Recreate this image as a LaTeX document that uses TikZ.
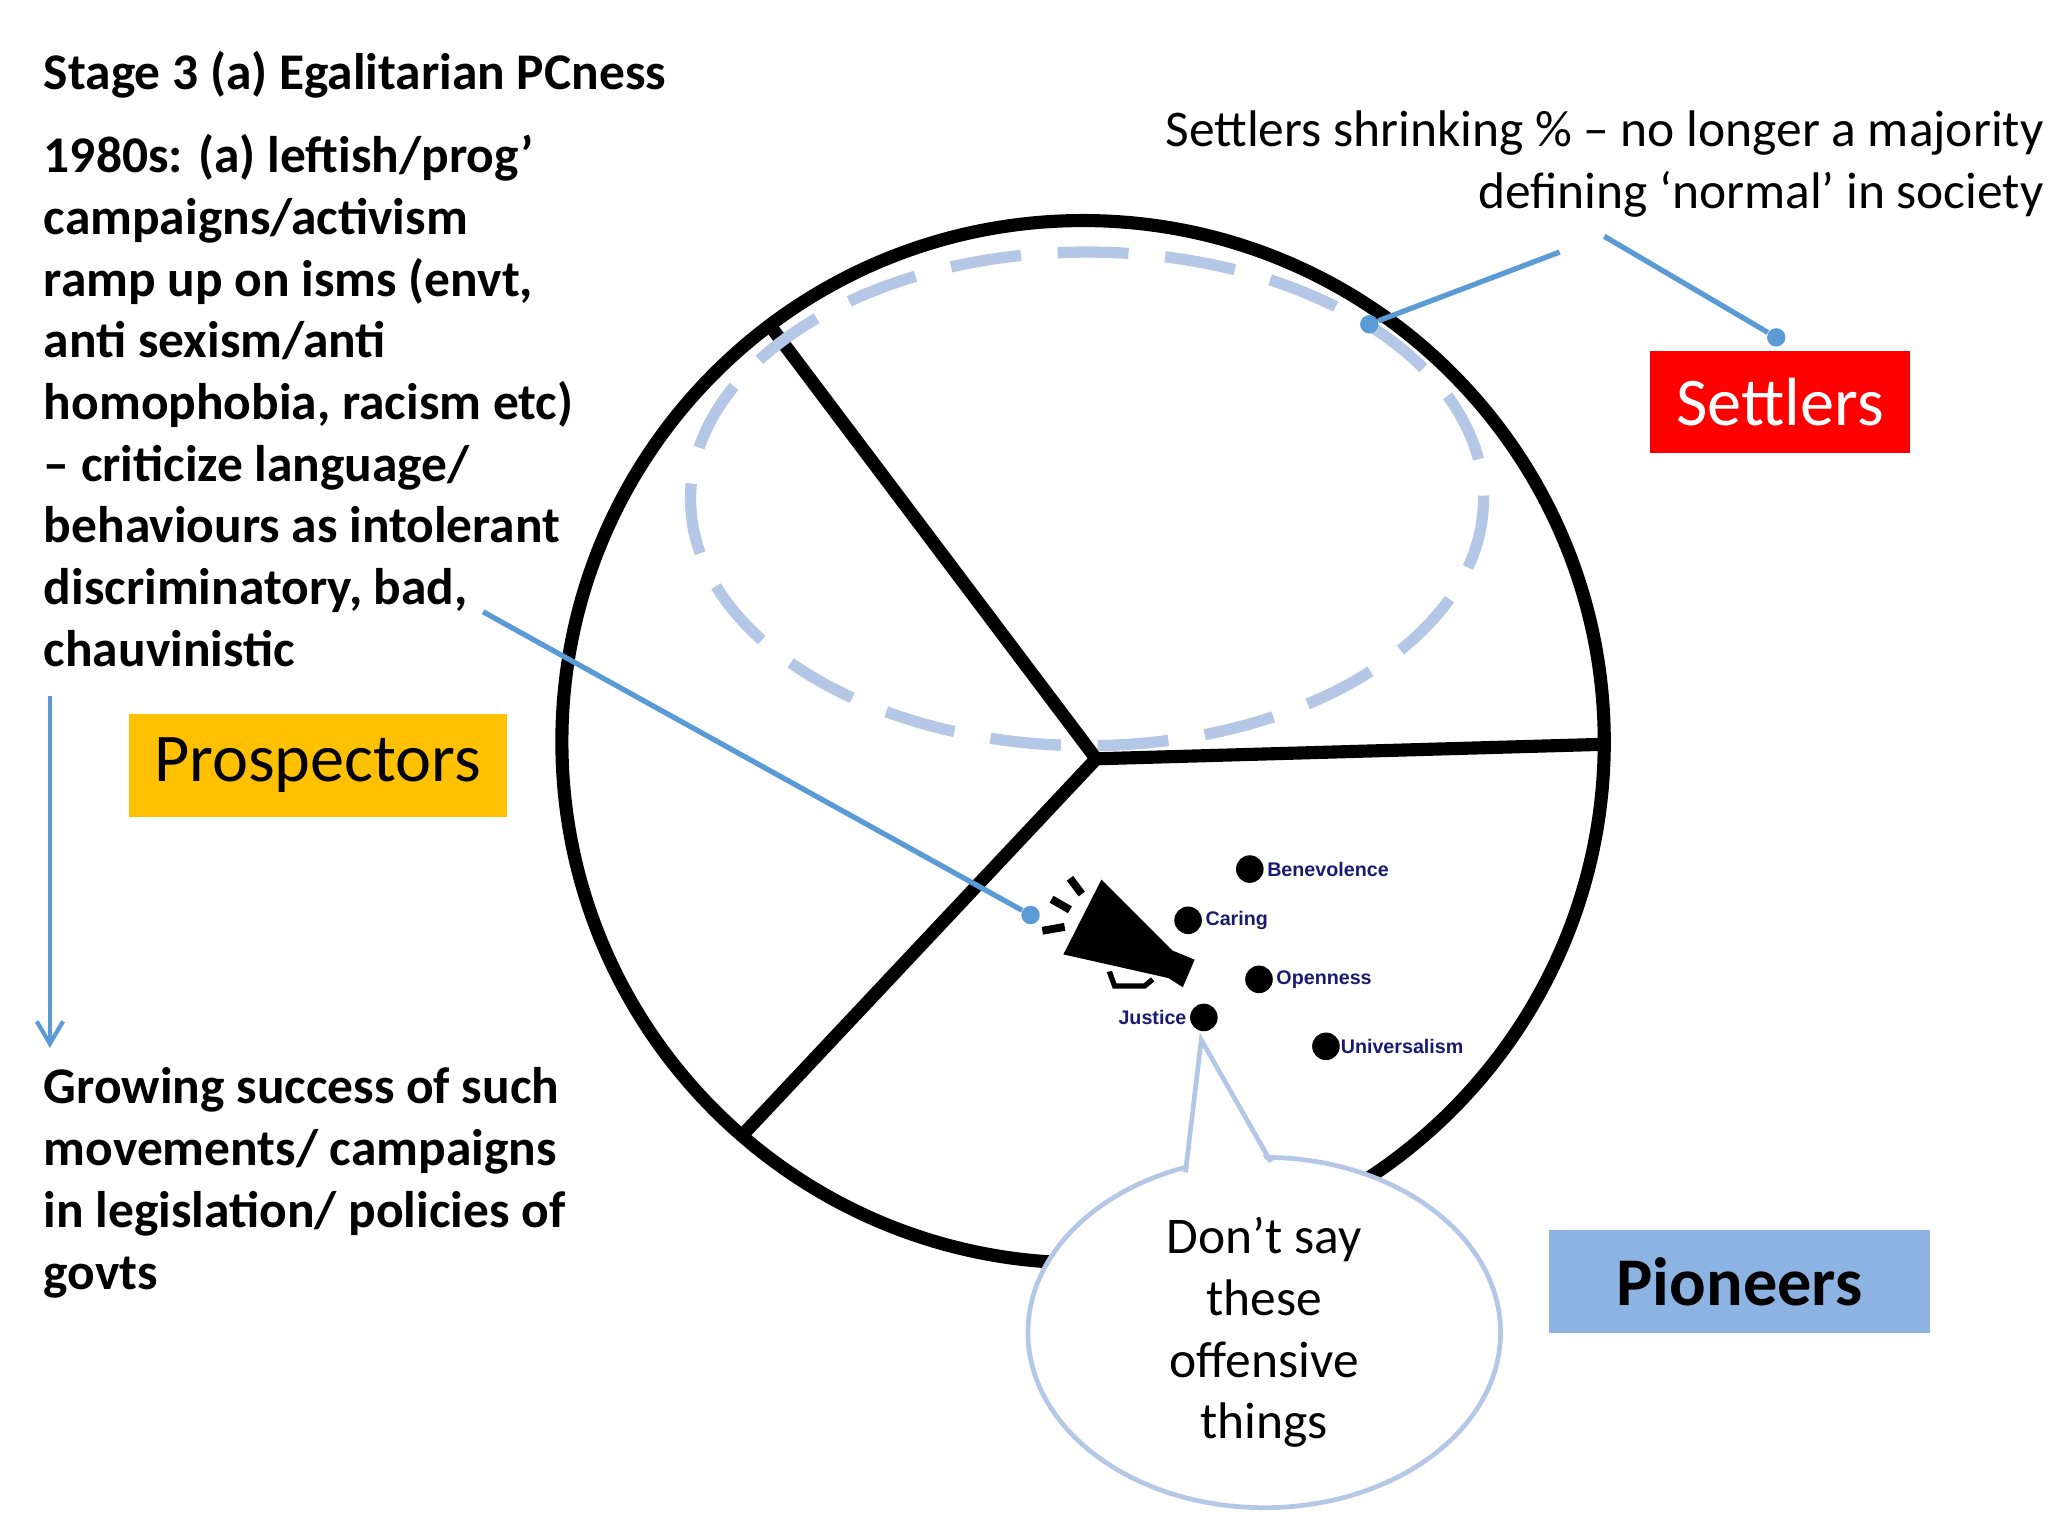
\documentclass[tikz,border=0pt]{standalone}
\usepackage{fontspec}
\setmainfont{Carlito}
\newfontfamily\arialf{Liberation Sans}
\usetikzlibrary{shapes.geometric}
\definecolor{lblue}{HTML}{B4C7E7}
\definecolor{conn}{HTML}{5B9BD5}
\definecolor{pion}{HTML}{8DB3E2}
\definecolor{pros}{HTML}{FFC000}
\definecolor{navy}{HTML}{1A1A70}
\begin{document}
\begin{tikzpicture}[x=0.5pt,y=-0.5pt,
  body/.style={font=\fontsize{19.6}{23.5}\selectfont\bfseries,align=left,anchor=north west,inner sep=0},
  conn/.style={draw=conn,line width=2pt},
  dotn/.style={circle,fill=black,minimum size=10.5pt,inner sep=0},
  lab/.style={font=\arialf\fontsize{7.5}{9}\selectfont\bfseries,text=navy,inner sep=1pt},
  box/.style={minimum width=#1,minimum height=39pt,inner sep=0},
  bigt/.style={font=\fontsize{26}{30}\selectfont}]
\useasboundingbox (0,0) rectangle (1560,1170);
% circle
\coordinate (c) at (835,578);
\draw[line width=5pt] (825,565) circle (397);
\draw[line width=5pt] (c) -- (588,250);
\draw[line width=5pt] (c) -- (1220,567);
\draw[line width=5pt] (c) -- (568,862);
% dashed ellipse
\draw[lblue,line width=4.3pt,dash pattern=on 27pt off 14pt] (828,380) ellipse [x radius=302,y radius=188];
% texts
\node[body] (t1) at (33,39) {Stage 3 (a) Egalitarian PCness};
\node[body] (t2) at (33,102) {1980s: (a) leftish/prog’\\campaigns/activism\\ramp up on isms (envt,\\anti sexism/anti\\homophobia, racism etc)\\– criticize language/\\behaviours as intolerant\\discriminatory, bad,\\chauvinistic};
\node[body] (t3) at (33,813) {Growing success of such\\movements/ campaigns\\in legislation/ policies of\\govts};
\node[font=\fontsize{19.6}{23.5}\selectfont,align=right,anchor=north east,inner sep=0] (t4) at (1557,84) {Settlers shrinking \% – no longer a majority\\defining ‘normal’ in society};
% boxes
\node[box=99pt,fill=red,text=white,bigt] (set) at (1356,306) {Settlers};
\node[box=144pt,fill=pros,bigt] (pro) at (242,583) {Prospectors};
\node[box=145pt,fill=pion,font=\fontsize{26}{30}\selectfont\bfseries] (pio) at (1325,976) {Pioneers};
% connectors
\coordinate (a1) at (1188,192);
\coordinate (a2) at (1222,180);
\coordinate (a3) at (368,466);
\node[circle,fill=conn,minimum size=7pt,inner sep=0] (d1) at (1043,247) {};
\node[circle,fill=conn,minimum size=7pt,inner sep=0] (d2) at (1353,257) {};
\node[circle,fill=conn,minimum size=7pt,inner sep=0] (d3) at (785,697) {};
\draw[conn] (a1) -- (d1);
\draw[conn] (a2) -- (d2);
\draw[conn] (a3) -- (d3);
\coordinate (v1) at (38,530);
\coordinate (v2) at (38,795);
\draw[conn,line width=1.6pt] (v1) -- (v2);
\draw[conn,line width=1.6pt] (28,778) -- (v2) -- (48,778);
% megaphone
\fill (839,670) -- (893,724) -- (910,731) -- (901,752) -- (890,745) -- (810,727) -- cycle;
\draw[line width=2pt] (845,740) -- (849,751) -- (872,751) -- (878,746);
\draw[line width=3pt] (794,709) -- (811,706);
\draw[line width=3pt] (801,685) -- (815,693);
\draw[line width=3pt] (815,669) -- (824,681);
% value dots
\node[dotn] (b) at (952,662) {};
\node[lab,anchor=west] at (b.east) {Benevolence};
\node[dotn] (ca) at (905,701) {};
\node[lab,anchor=west] at (ca.east) {Caring};
\node[dotn] (o) at (959,746) {};
\node[lab,anchor=west] at (o.east) {Openness};
\node[dotn] (j) at (917,775) {};
\node[lab,anchor=east] at (j.west) {Justice};
\node[dotn] (u) at (1010,797) {};
\node[lab,anchor=west,inner sep=0] at (u.east) {Universalism};
% bubble
\node[ellipse,draw=lblue,fill=white,line width=1.8pt,minimum width=180pt,minimum height=130pt,align=center,font=\fontsize{19.6}{23.5}\selectfont] (bub) at (963,1015) {Don’t say\\these\\offensive\\things};
\fill[white] (905,893) -- (915,790) -- (966,888) -- cycle;
\draw[lblue,line width=1.8pt] (903,893) -- (915,792) -- (968,885);
\end{tikzpicture}
\end{document}
